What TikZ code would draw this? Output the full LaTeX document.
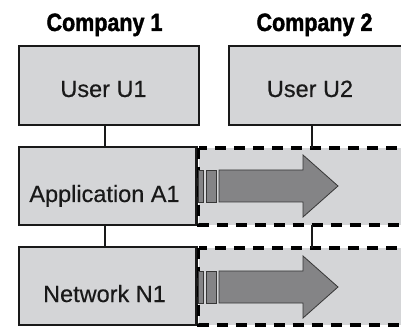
\documentclass[tikz,border=0pt]{standalone}
\usepackage{fontspec}
\setmainfont{Liberation Sans}
\newfontfamily\headfont{Liberation Sans}[BoldFeatures={FakeBold=1.6,FakeStretch=0.86}]
\newfontfamily\bodyfont{Liberation Sans}[FakeBold=0.4]
\begin{document}
\begin{tikzpicture}[x=1pt,y=-1pt,
  boxfill/.style={fill=boxgray},
  layer/.style={boxfill, draw=black!90, line width=2.2pt, inner sep=0pt, outer sep=0pt},
  remote/.style={boxfill, draw=black, line width=3.2pt, dash pattern=on 11pt off 8pt, inner sep=0pt, outer sep=0pt},
  wire/.style={draw=black!90, line width=2.2pt},
  lbl/.style={anchor=base, inner sep=0pt, text=black!90, font=\bodyfont\fontsize{23.5}{28}\selectfont},
  title/.style={anchor=base, inner sep=0pt, font=\headfont\fontsize{25}{30}\selectfont\bfseries},
  flow/.style={fill=arrowgray, draw=arrowedge, line width=0.8pt, line join=miter}
]
\definecolor{boxgray}{RGB}{212,213,215}
\definecolor{arrowgray}{RGB}{132,132,134}
\definecolor{arrowedge}{RGB}{55,55,55}
\useasboundingbox (0,0) rectangle (401,328);
\clip (0,0) rectangle (401,328);

% column titles
\node[title] (t1) at (104.5,31) {Company 1};
\node[title] (t2) at (314.5,31) {Company 2};

% company 1 stack
\path[layer] (19,46) rectangle (199,125);
\path[layer] (19,147) rectangle (196.5,225);
\path[layer] (19,247) rectangle (196.5,325);
\coordinate (u1s) at (105,125);
\coordinate (a1n) at (105,147);
\coordinate (a1s) at (105,225);
\coordinate (n1n) at (105,247);

% company 2 stack
\path[layer] (229,46) rectangle (420,125);
\path[remote] (198.5,148) rectangle (420,225);
\path[remote] (198.5,248) rectangle (420,325);
\coordinate (u2s) at (312,125);
\coordinate (a2n) at (312,148);
\coordinate (a2s) at (312,225);
\coordinate (n2n) at (312,248);

% links between layers
\draw[wire] (u1s) -- (a1n);
\draw[wire] (a1s) -- (n1n);
\draw[wire] (u2s) -- (a2n);
\draw[wire] (a2s) -- (n2n);

% transfer arrows
\foreach \cy in {186,287}{
  \begin{scope}[shift={(198,\cy)}]
    \path[flow] (0,-16) rectangle (5,16);
    \path[flow] (8,-16) rectangle (18,16);
    \path[flow] (21,-16) -- (105,-16) -- (105,-31) -- (140,0) -- (105,31) -- (105,16) -- (21,16) -- cycle;
  \end{scope}
}

% labels
\node[lbl] (lu1) at (103.5,97) {User U1};
\node[lbl] (lu2) at (310,97) {User U2};
\node[lbl] (la1) at (104.5,202) {Application A1};
\node[lbl] (ln1) at (104.5,302) {Network N1};
\end{tikzpicture}
\end{document}
